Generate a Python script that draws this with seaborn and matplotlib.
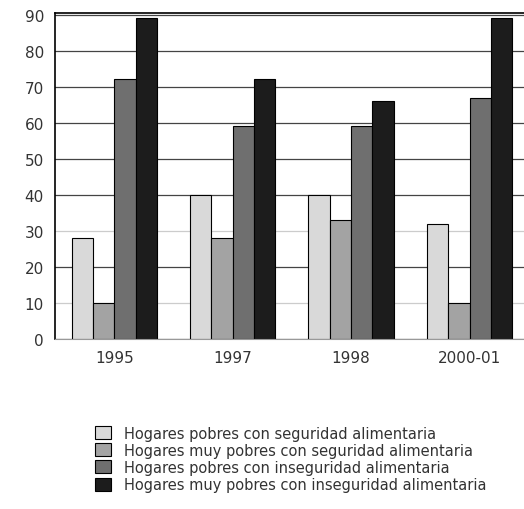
import matplotlib
matplotlib.use("Agg")
import matplotlib.pyplot as plt
import pandas as pd
import seaborn as sns

years = ["1995", "1997", "1998", "2000-01"]
series = [
    "Hogares pobres con seguridad alimentaria",
    "Hogares muy pobres con seguridad alimentaria",
    "Hogares pobres con inseguridad alimentaria",
    "Hogares muy pobres con inseguridad alimentaria",
]
pobres_seg = [28, 40, 40, 32]
muy_pobres_seg = [10, 28, 33, 10]
pobres_inseg = [72, 59, 59, 67]
muy_pobres_inseg = [89, 72, 66, 89]
y_ticks = list(range(0, 100, 10))
faint_ticks = [10, 30]

COLORS = ["#d9d9d9", "#a3a3a3", "#6f6f6f", "#1c1c1c"]

rows = []
for name, vals in zip(series, [pobres_seg, muy_pobres_seg, pobres_inseg, muy_pobres_inseg]):
    for year, v in zip(years, vals):
        rows.append({"year": year, "serie": name, "valor": v})
df = pd.DataFrame(rows)

sns.set_style("white")
plt.rcParams["font.family"] = ["DejaVu Sans"]

fig = plt.figure(figsize=(5.24, 5.10), dpi=100)
ax = fig.add_axes([0.105, 0.333, 0.895, 0.64])

ax.set_axisbelow(True)
sns.barplot(
    data=df,
    x="year",
    y="valor",
    hue="serie",
    hue_order=series,
    order=years,
    palette=COLORS,
    edgecolor="black",
    linewidth=0.8,
    width=0.72,
    saturation=1,
    ax=ax,
)

ax.set_ylim(0, 90.5)
ax.set_xlim(-0.5, 3.46)
ax.set_yticks(y_ticks)
ax.yaxis.grid(True, color="#444444", linewidth=0.9)
for tick, line in zip(y_ticks, ax.get_ygridlines()):
    if tick in faint_ticks:
        line.set_color("#cccccc")
ax.set_xlabel("")
ax.set_ylabel("")
ax.tick_params(axis="both", labelsize=11, colors="#333333", length=0, pad=8)
for side in ["left", "top"]:
    ax.spines[side].set_color("black")
    ax.spines[side].set_linewidth(1.2)
ax.spines["bottom"].set_color("#999999")
ax.spines["right"].set_visible(False)

handles, labels = ax.get_legend_handles_labels()
ax.get_legend().remove()
fig.legend(
    handles,
    labels,
    loc="upper left",
    bbox_to_anchor=(0.17, 0.175),
    frameon=False,
    fontsize=10.5,
    labelcolor="#333333",
    handlelength=1.1,
    handleheight=1.0,
    handletextpad=0.9,
    labelspacing=0.15,
    borderaxespad=0,
)

fig.savefig("out.png", dpi=100)
